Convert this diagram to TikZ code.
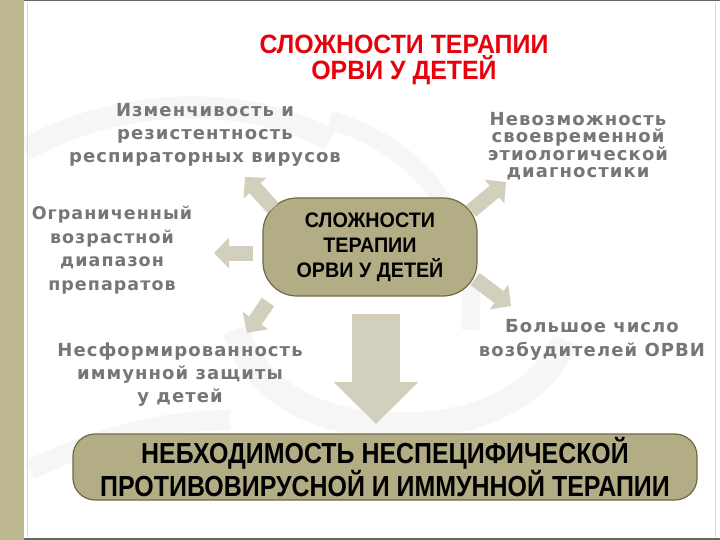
\documentclass[tikz,border=0pt]{standalone}
\usepackage{fontspec}
\setmainfont{Liberation Sans}
\newfontfamily\narrowfont[FakeStretch=0.94]{Liberation Sans}
\newfontfamily\bottomfont[FakeStretch=0.86]{Liberation Sans}
\newfontfamily\spacedfont[LetterSpace=6]{DejaVu Sans}
\usetikzlibrary{arrows.meta}
\definecolor{tanstrip}{HTML}{BFB991}
\definecolor{olivefill}{HTML}{B3AD85}
\definecolor{oliveedge}{HTML}{6E6A46}
\definecolor{arrowfill}{HTML}{D2CFBC}
\definecolor{graytext}{HTML}{767676}
\definecolor{titlered}{HTML}{E8000B}
\definecolor{swoosh}{HTML}{F6F6F6}
\tikzset{
  factor/.style={text=graytext, align=center, inner sep=0pt},
  olivebox/.style={draw=oliveedge, line width=1.2pt, fill=olivefill, align=center, text=black, inner sep=0pt},
  blockarrow/.style={draw=arrowfill, line width=15pt, -{Triangle[width=30pt,length=15pt]}},
}
\begin{document}
\begin{tikzpicture}[x=1pt,y=-1pt]
\useasboundingbox (0,0) rectangle (720,540);
\fill[white] (0,0) rectangle (720,540);
% faint background swooshes
\draw[swoosh, line width=22pt] (25,150) .. controls (120,95) and (250,95) .. (330,140);
\draw[swoosh, line width=18pt] (330,120) .. controls (430,150) and (480,230) .. (470,330);
\draw[swoosh, line width=26pt] (235,330) .. controls (260,400) and (330,430) .. (420,425) .. controls (500,420) and (550,380) .. (565,340);
\draw[swoosh, line width=20pt] (30,470) .. controls (90,440) and (160,420) .. (230,420);
% frame
\fill[tanstrip] (0,0) rectangle (24,540);
\draw[gray!80!black, line width=1.2pt] (24,0.8) -- (720,0.8);
\draw[gray!80!black, line width=1.5pt] (24,539) -- (720,539);
\draw[gray!30, line width=0.6pt] (27,3) -- (27,537);
\draw[gray!30, line width=0.6pt] (715,3) -- (715,537);
% title
\node[text=titlered, font=\narrowfont\bfseries\fontsize{26.5}{26}\selectfont, align=center, inner sep=0pt] (title) at (404,60) {СЛОЖНОСТИ ТЕРАПИИ\\ОРВИ У ДЕТЕЙ};
% central box
\node[olivebox, rounded corners=34pt, minimum width=214pt, minimum height=98pt, font=\narrowfont\bfseries\fontsize{21}{25}\selectfont] (center) at (370,247) {СЛОЖНОСТИ\\ТЕРАПИИ\\ОРВИ У ДЕТЕЙ};
% bottom box
\node[olivebox, rounded corners=22pt, minimum width=624pt, minimum height=66pt, font=\bottomfont\bfseries\fontsize{29}{30}\selectfont] (need) at (385,467) {НЕБХОДИМОСТЬ НЕСПЕЦИФИЧЕСКОЙ\\ПРОТИВОВИРУСНОЙ И ИММУННОЙ ТЕРАПИИ};
% factors
\node[factor, font=\spacedfont\bfseries\fontsize{18}{23}\selectfont] (var) at (205,135) {Изменчивость и\\резистентность\\респираторных вирусов};
\node[factor, font=\spacedfont\bfseries\fontsize{18}{16.7}\selectfont] (diag) at (578,146) {Невозможность\\своевременной\\этиологической\\диагностики};
\node[factor, font=\spacedfont\bfseries\fontsize{17.5}{23.5}\selectfont] (age) at (112,250) {Ограниченный\\возрастной\\диапазон\\препаратов};
\node[factor, font=\spacedfont\bfseries\fontsize{18}{23}\selectfont] (imm) at (180,375) {Несформированность\\иммунной защиты\\у детей};
\node[factor, font=\spacedfont\bfseries\fontsize{18}{24}\selectfont] (path) at (592,340) {Большое число\\возбудителей ОРВИ};
% arrows
\coordinate (ulT) at (273,208); \coordinate (ulH) at (245,177);
\coordinate (lT) at (253,253); \coordinate (lH) at (214,253);
\coordinate (dlT) at (268,302); \coordinate (dlH) at (247,333);
\coordinate (urT) at (471,211); \coordinate (urH) at (506,182);
\coordinate (drT) at (475,279); \coordinate (drH) at (511,306);
\coordinate (dT) at (376,314); \coordinate (dH) at (376,424);
\draw[blockarrow] (ulT) -- (ulH);
\draw[blockarrow] (lT) -- (lH);
\draw[blockarrow] (dlT) -- (dlH);
\draw[blockarrow] (urT) -- (urH);
\draw[blockarrow] (drT) -- (drH);
\draw[draw=arrowfill, line width=48pt, -{Triangle[width=82pt,length=42pt]}] (dT) -- (dH);
\end{tikzpicture}
\end{document}
